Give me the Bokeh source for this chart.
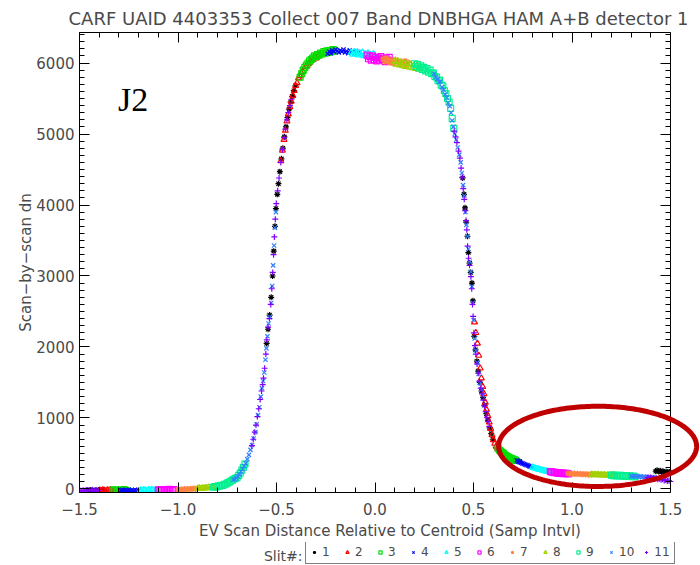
import numpy as np
from bokeh.plotting import figure
from bokeh.layouts import column
from bokeh.models import (Range1d, FixedTicker, LinearAxis, Label, Legend,
                          LegendItem, PolyAnnotation)
from bokeh.embed import file_html
from bokeh.resources import INLINE

TITLE = "CARF UAID 4403353 Collect 007 Band DNBHGA HAM A+B  detector 1"
X_LABEL = "EV Scan Distance Relative to Centroid (Samp Intvl)"
Y_LABEL = "Scan\u2212by\u2212scan dn"
X_TICKS = [-1.5, -1.0, -0.5, 0.0, 0.5, 1.0, 1.5]
X_TICK_LABELS = ["\u22121.5", "\u22121.0", "\u22120.5", "0.0", "0.5", "1.0", "1.5"]
Y_TICKS = [0, 1000, 2000, 3000, 4000, 5000, 6000]
Y_TICK_LABELS = ["0", "1000", "2000", "3000", "4000", "5000", "6000"]
SLITS = ["1", "2", "3", "4", "5", "6", "7", "8", "9", "10", "11"]
SLIT_COLORS = ["#000000", "#FF0000", "#00E000", "#0000FF", "#00FFFF", "#FF00FF",
               "#FF8040", "#A0D000", "#00F090", "#3080FF", "#8000FF"]
SLIT_MARKERS = ["asterisk", "triangle", "square", "x", "triangle", "square",
                "asterisk", "triangle", "square", "x", "cross"]
PANEL_LABEL = "J2"
LEGEND_TITLE = "Slit#:"

X1 = [-1.458, -1.45, -1.443, -1.436, -1.428, -1.42, -1.412, -1.404, -1.396, -1.388, -1.38,
      -0.55, -0.543, -0.535, -0.527, -0.52, -0.514, -0.508, -0.503, -0.496, -0.49, -0.483,
      -0.475, -0.468, -0.46, -0.452, -0.444, -0.436, -0.428, -0.42, -0.412, -0.404,
      0.445, 0.452, 0.457, 0.463, 0.469, 0.474, 0.48, 0.486, 0.492, 0.497, 0.504, 0.51,
      0.517, 0.524, 0.532, 0.54, 0.548, 0.556, 0.565, 0.573, 0.582, 0.59, 0.598,
      0.705, 0.715, 0.725, 0.735, 1.425, 1.432, 1.44, 1.448, 1.455, 1.462, 1.47, 1.478, 1.486, 1.494]
Y1 = [-20, -26, -15, -22, -30, -18, -24, -14, -22, -27, -17,
      2050, 2250, 2450, 2700, 3000, 3350, 3700, 3950, 4150, 4300, 4470,
      4650, 4800, 4960, 5100, 5230, 5350, 5450, 5530, 5610, 5680,
      4380, 4150, 3960, 3760, 3560, 3330, 3180, 3050, 2900, 2650, 2150, 1960,
      1800, 1660, 1500, 1380, 1290, 1180, 1060, 970, 860, 780, 700,
      420, 405, 395, 385, 250, 262, 245, 255, 240, 250, 236, 244, 230, 238]

X2 = [-1.398, -1.39, -1.382, -1.374, -1.366, -1.358, -1.35, -1.342, -1.334, -1.326,
      -0.478, -0.47, -0.462, -0.455, -0.447, -0.44, -0.432, -0.425, -0.417, -0.41, -0.403,
      -0.396, -0.388, -0.381, -0.374, -0.367, -0.36, -0.352, -0.345, -0.338, -0.33, -0.322,
      -0.314, -0.306, -0.298, -0.29, -0.282,
      0.505, 0.512, 0.52, 0.527, 0.534, 0.54, 0.547, 0.553, 0.56, 0.566, 0.573, 0.58,
      0.587, 0.594, 0.601, 0.608, 0.615, 0.622, 0.63]
Y2 = [-18, -25, -14, -22, -28, -16, -23, -12, -20, -26,
      4620, 4770, 4920, 5050, 5180, 5280, 5380, 5460, 5540, 5610, 5680,
      5720, 5790, 5820, 5860, 5880, 5920, 5950, 5960, 5990, 6010, 6040,
      6050, 6080, 6070, 6100, 6110,
      2350, 2200, 2050, 1880, 1700, 1560, 1440, 1340, 1220, 1120, 1030, 940,
      850, 760, 690, 640, 600, 575, 550]

X3 = [-1.33, -1.322, -1.314, -1.306, -1.298, -1.29, -1.282, -1.274, -1.266, -1.258,
      -0.38, -0.372, -0.364, -0.356, -0.348, -0.34, -0.332, -0.324, -0.316, -0.308, -0.3,
      -0.292, -0.284, -0.276, -0.268, -0.26, -0.252, -0.244, -0.236, -0.228, -0.22, -0.212, -0.204,
      0.625, 0.632, 0.638, 0.645, 0.652, 0.658, 0.665, 0.672, 0.679, 0.686, 0.693, 0.7, 0.707, 0.714]
Y3 = [-16, -24, -12, -20, -27, -15, -22, -10, -19, -25,
      5800, 5850, 5900, 5940, 5970, 6000, 6030, 6050, 6070, 6100, 6090,
      6120, 6110, 6140, 6130, 6160, 6140, 6170, 6150, 6180, 6160, 6190, 6170,
      570, 545, 530, 515, 500, 480, 470, 455, 445, 435, 428, 420, 410, 402]

X4 = [-1.29, -1.282, -1.274, -1.266, -1.258, -1.25, -1.242, -1.234, -1.226, -1.218, -1.21, -1.202,
      -0.24, -0.232, -0.224, -0.216, -0.208, -0.2, -0.192, -0.184, -0.176, -0.168, -0.16,
      -0.152, -0.144, -0.136, -0.128, -0.12, -0.112, -0.104, -0.096, -0.088, -0.08,
      0.72, 0.727, 0.734, 0.741, 0.748, 0.755, 0.762, 0.769, 0.776, 0.783, 0.79, 0.797, 0.804]
Y4 = [-20, -13, -25, -17, -22, -12, -24, -16, -21, -11, -23, -15,
      6130, 6160, 6140, 6180, 6160, 6190, 6170, 6150, 6180, 6160, 6190,
      6150, 6170, 6140, 6180, 6150, 6160, 6130, 6170, 6140, 6150,
      400, 385, 378, 370, 360, 352, 345, 338, 330, 322, 315, 308, 300]

X5 = [-1.19, -1.182, -1.174, -1.166, -1.158, -1.15, -1.142, -1.134, -1.126, -1.118, -1.11,
      -0.12, -0.113, -0.106, -0.099, -0.092, -0.085, -0.078, -0.071, -0.064, -0.057, -0.05,
      -0.043, -0.036, -0.029, -0.022, -0.015, -0.008, 0.0,
      0.8, 0.807, 0.814, 0.821, 0.828, 0.835, 0.842, 0.849, 0.856, 0.863, 0.87, 0.877, 0.884, 0.891]
Y5 = [-15, -22, -10, -18, -24, -12, -20, -8, -16, -21, -11,
      6150, 6120, 6160, 6130, 6150, 6110, 6140, 6120, 6150, 6100, 6130,
      6110, 6140, 6090, 6120, 6100, 6130, 6090,
      305, 296, 292, 283, 280, 270, 270, 260, 260, 252, 252, 245, 246, 238]

X6 = [-1.1, -1.092, -1.084, -1.076, -1.068, -1.06, -1.052, -1.044, -1.036, -1.028, -1.02,
      -0.04, -0.033, -0.026, -0.019, -0.012, -0.005, 0.002, 0.009, 0.016, 0.023, 0.03,
      0.037, 0.044, 0.051, 0.058, 0.065, 0.072, 0.079,
      0.89, 0.897, 0.904, 0.911, 0.918, 0.925, 0.932, 0.939, 0.946, 0.953, 0.96, 0.967, 0.974, 0.981]
Y6 = [-12, -18, -8, -15, -20, -10, -16, -6, -13, -18, -9,
      6110, 6060, 6090, 6040, 6100, 6050, 6080, 6030, 6070, 6040, 6090,
      6050, 6070, 6020, 6060, 6040, 6080, 6030,
      246, 236, 238, 229, 234, 224, 230, 220, 226, 217, 224, 214, 221, 212]

X7 = [-1.0, -0.992, -0.984, -0.976, -0.968, -0.96, -0.952, -0.944, -0.936, -0.928, -0.92, -0.912, -0.904,
      0.04, 0.048, 0.056, 0.064, 0.072, 0.08, 0.088, 0.096, 0.104, 0.112, 0.12, 0.128, 0.136,
      0.144, 0.152, 0.16, 0.168,
      0.98, 0.988, 0.996, 1.004, 1.012, 1.02, 1.028, 1.036, 1.044, 1.052, 1.06, 1.068, 1.076,
      1.084, 1.092, 1.1]
Y7 = [-8, -14, -4, -10, -2, -9, 0, -6, 4, -2, 6, 0, 8,
      6060, 6020, 6070, 6010, 6050, 6000, 6040, 5990, 6050, 6010, 6030, 5980, 6020,
      5990, 6030, 5970, 6010,
      222, 212, 220, 210, 218, 208, 215, 206, 214, 204, 211, 203, 210,
      201, 208, 200]

X8 = [-0.9, -0.892, -0.884, -0.876, -0.868, -0.86, -0.852, -0.844, -0.836, -0.828, -0.82,
      0.1, 0.108, 0.116, 0.124, 0.132, 0.14, 0.148, 0.156, 0.164, 0.172, 0.18, 0.188,
      0.196, 0.204, 0.212, 0.22, 0.228,
      1.1, 1.108, 1.116, 1.124, 1.132, 1.14, 1.148, 1.156, 1.164, 1.172, 1.18, 1.188,
      1.196, 1.204, 1.212, 1.22]
Y8 = [6, 12, 4, 14, 8, 18, 12, 24, 18, 30, 26,
      6020, 5980, 6030, 5970, 6010, 5960, 6000, 5950, 5990, 5940, 5980, 5930,
      5970, 5920, 5960, 5910, 5940,
      206, 198, 204, 196, 203, 194, 201, 193, 200, 191, 198, 190,
      196, 188, 195, 186]

X9 = [-0.82, -0.812, -0.804, -0.796, -0.788, -0.78, -0.772, -0.764, -0.756, -0.748, -0.74,
      -0.732, -0.724, -0.716, -0.708, -0.7, -0.692, -0.684, -0.676, -0.668, -0.66,
      0.2, 0.208, 0.216, 0.224, 0.232, 0.24, 0.248, 0.256, 0.264, 0.272, 0.28, 0.288,
      0.296, 0.304, 0.312, 0.32, 0.328, 0.336, 0.344, 0.352, 0.36, 0.368, 0.376, 0.384,
      0.392, 0.4,
      1.2, 1.208, 1.216, 1.224, 1.232, 1.24, 1.248, 1.256, 1.264, 1.272, 1.28, 1.288,
      1.296, 1.304, 1.312, 1.32]
Y9 = [24, 34, 28, 42, 38, 52, 50, 66, 70, 86, 95,
      112, 125, 140, 150, 160, 190, 225, 265, 305, 350,
      5990, 5950, 5980, 5930, 5960, 5910, 5940, 5890, 5920, 5870, 5900, 5850,
      5860, 5810, 5800, 5750, 5760, 5690, 5680, 5610, 5570, 5500, 5450, 5360,
      5220, 5080,
      196, 187, 194, 185, 192, 183, 190, 181, 188, 179, 186, 177,
      183, 174, 181, 172]

X10 = [-0.72, -0.712, -0.704, -0.696, -0.688, -0.68, -0.672, -0.664, -0.656, -0.648, -0.64,
       -0.632, -0.624, -0.616, -0.608, -0.601, -0.594, -0.587, -0.58, -0.574, -0.568, -0.562,
       -0.556, -0.551, -0.546, -0.54, -0.534, -0.527, -0.522, -0.517, -0.512, -0.508, -0.503,
       0.3, 0.308, 0.316, 0.324, 0.332, 0.34, 0.348, 0.356, 0.364, 0.372, 0.38, 0.386,
       0.392, 0.398, 0.405, 0.412, 0.42, 0.428, 0.435, 0.441, 0.447, 0.453, 0.459, 0.464,
       0.469, 0.474, 0.48, 0.486, 0.492, 0.496, 0.5, 0.506, 0.512, 0.519, 0.526, 0.533,
       0.54, 0.547,
       1.3, 1.308, 1.316, 1.324, 1.332, 1.34, 1.348, 1.356, 1.364, 1.372, 1.38, 1.388,
       1.396, 1.404, 1.412, 1.42]
Y10 = [130, 140, 155, 175, 205, 245, 280, 320, 360, 420, 480,
       550, 620, 710, 800, 910, 1040, 1150, 1300, 1420, 1520, 1640,
       1820, 1980, 2150, 2330, 2420, 2620, 2860, 3150, 3430, 3680, 3900,
       5850, 5800, 5770, 5730, 5740, 5660, 5620, 5560, 5510, 5440, 5390, 5300,
       5190, 5100, 5000, 4920, 4810, 4710, 4600, 4450, 4280, 4130, 3900, 3720,
       3560, 3380, 3200, 3060, 2850, 2620, 2380, 2120, 1950, 1780, 1620, 1490,
       1400, 1320,
       184, 176, 182, 173, 180, 170, 177, 167, 174, 164, 170, 161,
       167, 157, 163, 152]

X11 = [-1.498, -1.49, -1.482, -1.475, -1.466, -1.458, -1.45, -1.441, -1.433, -1.424, -1.415, -1.405,
       -0.625, -0.618, -0.61, -0.604, -0.597, -0.59, -0.583, -0.576, -0.57, -0.566, -0.56,
       -0.554, -0.549, -0.543, -0.536, -0.529, -0.524, -0.519, -0.515, -0.511, -0.506, -0.501,
       -0.494, -0.487, -0.478, -0.47, -0.462, -0.455, -0.447, -0.44, -0.432, -0.424,
       0.402, 0.409, 0.416, 0.424, 0.431, 0.437, 0.443, 0.448, 0.453, 0.458, 0.462, 0.466,
       0.47, 0.475, 0.48, 0.487, 0.491, 0.495, 0.498, 0.502, 0.507, 0.512, 0.518, 0.524,
       0.53, 0.537, 0.543, 0.55, 0.556, 0.562, 0.568, 0.574, 0.58,
       1.382, 1.39, 1.398, 1.405, 1.413, 1.42, 1.428, 1.436, 1.444, 1.452, 1.46, 1.468,
       1.476, 1.484, 1.492, 1.499]
Y11 = [-22, -30, -18, -25, -15, -28, -20, -24, -12, -26, -18, -22,
       610, 700, 800, 900, 1020, 1130, 1260, 1380, 1470, 1560, 1700,
       1900, 2100, 2280, 2400, 2600, 2820, 3050, 3300, 3550, 3800, 4020,
       4200, 4380, 4600, 4780, 4950, 5070, 5200, 5300, 5400, 5490,
       5040, 4960, 4880, 4760, 4660, 4520, 4390, 4230, 4080, 3920, 3780, 3650,
       3420, 3250, 3150, 2990, 2820, 2600, 2430, 2200, 2020, 1900, 1760, 1630,
       1520, 1420, 1340, 1250, 1170, 1090, 1010, 950, 880,
       160, 150, 162, 148, 155, 140, 150, 135, 142, 128, 135, 120,
       126, 112, 118, 105]

SLIT_X = [X1, X2, X3, X4, X5, X6, X7, X8, X9, X10, X11]
SLIT_Y = [Y1, Y2, Y3, Y4, Y5, Y6, Y7, Y8, Y9, Y10, Y11]

X_MIN, X_MAX = -1.5, 1.5
Y_MIN, Y_MAX = -50, 6430
# annotation ellipse (data units)
ELL_CX, ELL_CY, ELL_W, ELL_H = 1.13, 600.0, 1.005, 1130.0

FONT = "DejaVu Sans"
GRAY = "#4a4a4a"

FRAME_W, FRAME_H = 591, 460
LEFT, TOP = 79, 32
FIG_W, FIG_H = 700, 542
EXTRA_R = FIG_W - LEFT - FRAME_W          # room right of the box, used by the ellipse
X_VIEW_MAX = X_MAX + EXTRA_R * (X_MAX - X_MIN) / FRAME_W

p = figure(width=FIG_W, height=FIG_H, x_range=Range1d(X_MIN, X_VIEW_MAX),
           y_range=Range1d(Y_MIN, Y_MAX),
           output_backend="svg", toolbar_location=None,
           min_border_left=LEFT, min_border_right=0, min_border_top=TOP,
           min_border_bottom=FIG_H - TOP - FRAME_H,
           background_fill_color="white", border_fill_color="white",
           outline_line_color=None)
p.xgrid.visible = False
p.ygrid.visible = False

p.title.text = TITLE
p.title.align = "left"
p.title.offset = -11
p.title.text_font = FONT
p.title.text_font_size = "18px"
p.title.text_font_style = "normal"
p.title.text_color = GRAY
p.title.standoff = 8

xt = FixedTicker(ticks=X_TICKS, minor_ticks=[round(-1.5 + 0.1 * i, 2) for i in range(31)])
yt = FixedTicker(ticks=Y_TICKS, minor_ticks=[100 * i for i in range(65)])

def style_axis(ax, ticker, labels):
    ax.ticker = ticker
    ax.axis_line_color = "black"
    ax.major_tick_line_color = "black"
    ax.minor_tick_line_color = "black"
    ax.major_tick_in = 10
    ax.major_tick_out = 0
    ax.minor_tick_in = 5
    ax.minor_tick_out = 0
    ax.major_label_text_font = FONT
    ax.major_label_text_font_size = "15px"
    ax.major_label_text_color = GRAY
    ax.axis_label_text_font = FONT
    ax.axis_label_text_font_size = "15px"
    ax.axis_label_text_font_style = "normal"
    ax.axis_label_text_color = GRAY
    ax.major_label_overrides = dict(zip(ticker.ticks, labels))

style_axis(p.xaxis[0], xt, X_TICK_LABELS)
style_axis(p.yaxis[0], yt, Y_TICK_LABELS)
p.xaxis[0].bounds = (X_MIN, X_MAX)
p.xaxis[0].axis_label = X_LABEL
p.yaxis[0].axis_label = Y_LABEL
p.xaxis[0].major_label_standoff = 10
p.yaxis[0].major_label_standoff = 5
p.xaxis[0].axis_label_standoff = 4
p.yaxis[0].axis_label_standoff = -2

top_ax = LinearAxis(bounds=(X_MIN, X_MAX))
right_ax = LinearAxis(fixed_location=X_MAX)
style_axis(top_ax, xt, [""] * len(X_TICKS))
style_axis(right_ax, yt, [""] * len(Y_TICKS))
top_ax.major_label_standoff = 0
right_ax.major_label_standoff = 0
p.add_layout(top_ax, "above")
p.add_layout(right_ax, "right")

for i in range(11):
    p.scatter(SLIT_X[i], SLIT_Y[i], marker=SLIT_MARKERS[i], size=6,
              line_color=SLIT_COLORS[i], fill_color=None, line_width=1.2)

t = np.linspace(0, 2 * np.pi, 240)
ell = PolyAnnotation(xs=list(ELL_CX + ELL_W / 2 * np.cos(t)), ys=list(ELL_CY + ELL_H / 2 * np.sin(t)),
                     fill_alpha=0, line_color="#C00000", line_alpha=1.0, line_width=5)
p.add_layout(ell)

p.add_layout(Label(x=-1.305, y=5490, text=PANEL_LABEL, text_font="Liberation Serif",
                   text_font_size="34px", text_color="black", text_baseline="alphabetic"))

# legend strip below the chart (its frame is aligned with the chart's frame)
LEG_H = 22
q = figure(width=FIG_W, height=LEG_H, x_range=Range1d(10, 11), y_range=Range1d(10, 11),
           output_backend="svg", toolbar_location=None, x_axis_type=None, y_axis_type=None,
           min_border=0, outline_line_color=None, background_fill_color="white",
           border_fill_color="white")
q.xgrid.visible = False
q.ygrid.visible = False
items = []
for i in range(11):
    r = q.scatter(SLIT_X[i], SLIT_Y[i], marker=SLIT_MARKERS[i], size=5,
                  line_color=SLIT_COLORS[i], fill_color=None, line_width=1.2)
    items.append(LegendItem(label=SLITS[i], renderers=[r]))
legend = Legend(items=items, orientation="horizontal", location=(226, 0),
                glyph_width=8, glyph_height=10, label_text_font=FONT, label_text_font_size="12px",
                label_text_color=GRAY, label_standoff=4, spacing=8, padding=4, margin=0,
                label_width=13, label_height=10,
                border_line_color="black", border_line_width=1, background_fill_alpha=1)
q.add_layout(legend)
q.add_layout(Label(x=223, y=LEG_H - 13, x_units="screen", y_units="screen", text=LEGEND_TITLE,
                   text_align="right", text_baseline="middle",
                   text_font=FONT, text_font_size="14px", text_color=GRAY))

layout = column(p, q, spacing=0)
open("out.html", "w").write(file_html(layout, INLINE))
